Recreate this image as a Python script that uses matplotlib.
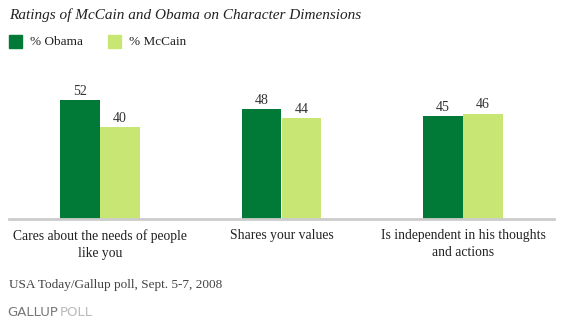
import numpy as np
import matplotlib.pyplot as plt

categories = ['Cares about the needs of people\nlike you',
              'Shares your values',
              'Is independent in his thoughts\nand actions']
obama = [52, 48, 45]
mccain = [40, 44, 46]

dark_green = '#007A36'
light_green = '#C8E673'
serif = ['Liberation Serif', 'DejaVu Serif']

fig = plt.figure(figsize=(5.63, 3.24), dpi=100)
ax = fig.add_axes([9/563, 105/324, 545/563, 126/324])

x = np.arange(len(categories))
w = 0.22
b1 = ax.bar(x - w/2, obama, w, color=dark_green)
b2 = ax.bar(x + w/2, mccain, w, color=light_green)

for bars in (b1, b2):
    for bar in bars:
        ax.text(bar.get_x() + bar.get_width()/2, bar.get_height() + 1,
                '%d' % bar.get_height(), ha='center', va='bottom',
                fontsize=10, family=serif, color='#333333')

ax.set_xlim(-0.5, 2.5)
ax.set_ylim(0, 55)
for s in ['top', 'right', 'left']:
    ax.spines[s].set_visible(False)
ax.spines['bottom'].set_color('#cccccc')
ax.spines['bottom'].set_linewidth(2)
ax.set_yticks([])
ax.set_xticks(x)
ax.set_xticklabels(categories, family=serif, fontsize=9.8, color='#222222',
                   linespacing=1.45)
ax.tick_params(axis='x', length=0, pad=7)

# title and legend
fig.text(9/563, 1 - 15/324, 'Ratings of McCain and Obama on Character Dimensions',
         family=serif, style='italic', fontsize=11, va='center', color='#222222')
fig.patches.append(plt.Rectangle((9/563, 1 - 48/324), 13/563, 13/324,
                                 transform=fig.transFigure, color=dark_green))
fig.text(30/563, 1 - 42/324, '% Obama', family=serif, fontsize=9.5, va='center', color='#222222')
fig.patches.append(plt.Rectangle((108/563, 1 - 48/324), 13/563, 13/324,
                                 transform=fig.transFigure, color=light_green))
fig.text(129/563, 1 - 42/324, '% McCain', family=serif, fontsize=9.5, va='center', color='#222222')

# source and logo
fig.text(9/563, 1 - 285/324, 'USA Today/Gallup poll, Sept. 5-7, 2008',
         family=serif, fontsize=9.5, va='center', color='#444444')
fig.text(7/563, 1 - 312/324, 'GALLUP', family='DejaVu Sans', fontsize=9.5,
         va='center', color='#777777')
fig.text(60/563, 1 - 312/324, 'POLL', family='DejaVu Sans', fontsize=9.5,
         va='center', color='#bbbbbb')

fig.savefig('out.png', dpi=100)
